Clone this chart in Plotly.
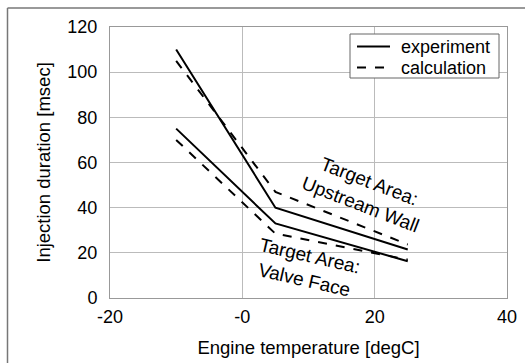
import plotly.graph_objects as go

temps = [-10, 5, 25]
upstream_exp = [110, 40, 21.5]
upstream_calc = [105, 47, 23.7]
valve_exp = [75, 33, 16.3]
valve_calc = [70, 28.5, 17]

series_names = ["experiment", "calculation"]
x_ticks = [-20, 0, 20, 40]
x_tick_labels = ["-20", "-0", "20", "40"]
y_ticks = [0, 20, 40, 60, 80, 100, 120]

W, H = 525, 363
ml, mr, mt, mb = 110, 18, 27, 65
pw = W - ml - mr
ph = H - mt - mb


def px(xp):
    return (xp - ml) / pw


def py(yp):
    return 1 - (yp - mt) / ph


fig = go.Figure()
line_solid = dict(color="black", width=2)
line_dash = dict(color="black", width=2, dash="dash")

fig.add_trace(go.Scatter(x=temps, y=upstream_exp, mode="lines", line=line_solid, name=series_names[0]))
fig.add_trace(go.Scatter(x=temps, y=upstream_calc, mode="lines", line=line_dash, name=series_names[1]))
fig.add_trace(go.Scatter(x=temps, y=valve_exp, mode="lines", line=line_solid, showlegend=False))
fig.add_trace(go.Scatter(x=temps, y=valve_calc, mode="lines", line=line_dash, showlegend=False))

font = dict(family="Liberation Sans, Arial, sans-serif", size=18, color="black")
afont = dict(family="Liberation Sans, Arial, sans-serif", size=19, color="black")

fig.add_annotation(x=18.5, y=46.5, xref="x", yref="y", text="Target Area:<br>Upstream Wall",
                   showarrow=False, textangle=21, font=afont, align="center")
fig.add_annotation(x=9.8, y=13.5, xref="x", yref="y", text="Target Area:<br>Valve Face",
                   showarrow=False, textangle=13, font=afont, align="center")

# outer frame (top and left lines)
fig.add_shape(type="line", xref="paper", yref="paper", x0=px(7.5), x1=px(W), y0=py(8), y1=py(8),
              line=dict(color="#777777", width=1.5))
fig.add_shape(type="line", xref="paper", yref="paper", x0=px(7.5), x1=px(7.5), y0=py(8), y1=py(H),
              line=dict(color="#777777", width=1.5))

# legend box
fig.add_shape(type="rect", xref="paper", yref="paper", x0=px(350), x1=px(499), y0=py(34), y1=py(78),
              line=dict(color="#666666", width=1), fillcolor="white", layer="above")
for i, (nm, dash) in enumerate(zip(series_names, ["solid", "dash"])):
    yy = 46.5 + 21 * i
    fig.add_shape(type="line", xref="paper", yref="paper", x0=px(357), x1=px(390), y0=py(yy), y1=py(yy),
                  line=dict(color="black", width=2, dash=dash), layer="above")
    fig.add_annotation(x=px(399), y=py(yy), xref="paper", yref="paper", text=nm, showarrow=False,
                       xanchor="left", yanchor="middle", font=font)

fig.update_layout(
    width=W, height=H,
    margin=dict(l=ml, r=mr, t=mt, b=mb, autoexpand=False),
    plot_bgcolor="white", paper_bgcolor="white",
    font=font,
    showlegend=False,
    xaxis=dict(range=[-20, 40], tickvals=x_ticks, ticktext=x_tick_labels,
               showgrid=True, gridcolor="#bbbbbb", gridwidth=1,
               showline=True, linecolor="#999999", mirror=True, zeroline=False,
               ticks="", ticklabelstandoff=2, automargin=False,
               title=dict(text="Engine temperature [degC]", font=dict(size=18.5), standoff=15)),
    yaxis=dict(range=[0, 120], tickvals=y_ticks,
               showgrid=True, gridcolor="#bbbbbb", gridwidth=1,
               showline=True, linecolor="#999999", mirror=True, zeroline=False,
               ticks="", ticklabelstandoff=8, automargin=False,
               title=dict(text="Injection duration [msec]", font=dict(size=18.5), standoff=11)),
)

fig.write_html("out.html")
